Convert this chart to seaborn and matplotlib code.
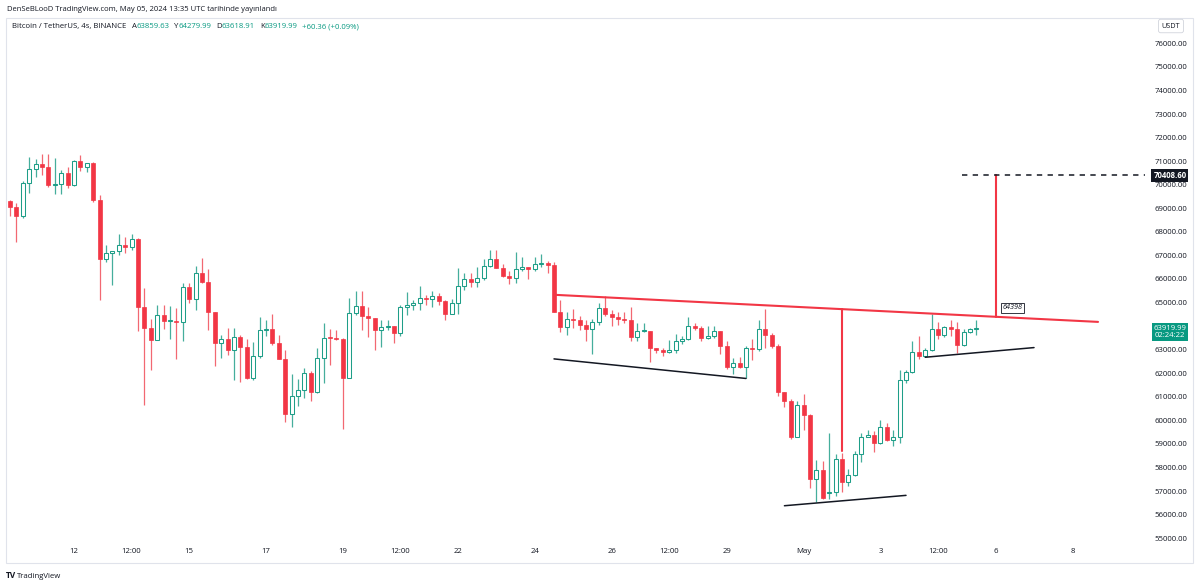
import numpy as np
import pandas as pd
import matplotlib
matplotlib.use("Agg")
import matplotlib.pyplot as plt
import matplotlib.dates as mdates
import matplotlib.transforms as mtransforms
from matplotlib.patches import Rectangle
import seaborn as sns

# ---------------- data ----------------
start_time = "2024-04-10 08:00"   # first 4h candle (UTC)

open_ = [69320, 69070, 68680, 70090, 70650, 70880, 70760, 69990, 70030, 70480,
         69990, 71020, 70760, 70900, 69350, 66840, 67120, 67170, 67450, 67350,
         67690, 64810, 63920, 63430, 64480, 64200, 64230, 64190, 65680, 65150,
         66260, 65870, 64580, 63300, 63460, 62970, 63540, 63120, 61780, 62730,
         63820, 63880, 63300, 62620, 60290, 61040, 61280, 62010, 61200, 62650,
         63500, 63480, 63460, 61800, 64560, 64870, 64440, 64330, 63820, 63960,
         63990, 63710, 64810, 64880, 64980, 65190, 65150, 65260, 65050, 64530,
         64980, 65710, 66000, 65880, 66040, 66560, 66840, 66460, 66110, 66040,
         66420, 66500, 66420, 66640, 66660, 66590, 64620, 63960, 64300, 64270,
         64040, 63880, 64160, 64770, 64530, 64390, 64300, 64240, 63540, 63780,
         63800, 63070, 62970, 62900, 63000, 63350, 63460, 64020, 63920, 63500,
         63570, 63780, 63170, 62270, 62440, 62270, 63070, 63030, 63880, 63640,
         63140, 61190, 60820, 59310, 60670, 60250, 57500, 57890, 56900, 56960,
         58370, 57380, 57670, 58560, 59310, 59360, 59050, 59730, 59190, 59290,
         61700, 62040, 62890, 62720, 63000, 63880, 63640, 63960, 63880, 63210,
         63730, 63859.63]
high = [69350, 69240, 70150, 71190, 71080, 71300, 71300, 71120, 70620, 70740,
        71050, 71260, 70930, 70980, 69560, 67450, 67200, 67910, 67800, 67910,
        67730, 65610, 64300, 64910, 64910, 64840, 64770, 65830, 65850, 66560,
        66880, 66420, 64600, 63640, 63920, 63920, 63640, 63460, 63310, 64390,
        64270, 64530, 63640, 63000, 61990, 61760, 62230, 62080, 63070, 64130,
        63880, 63850, 63500, 65190, 65470, 65470, 64810, 64350, 64270, 64270,
        64000, 64910, 65430, 65120, 65710, 65330, 65470, 65400, 65100, 65150,
        66460, 66250, 66250, 66530, 66840, 67240, 67210, 66640, 66320, 67160,
        66930, 66500, 66930, 67070, 66780, 66740, 65100, 64580, 64730, 64440,
        64270, 64300, 64980, 65290, 64700, 64620, 64580, 64810, 64130, 64130,
        63810, 63080, 63070, 63430, 63680, 63570, 64390, 64130, 63990, 63990,
        63990, 63800, 63350, 62650, 62690, 63170, 63460, 64240, 64730, 63710,
        63260, 61200, 60920, 60820, 61100, 60290, 58340, 58270, 59470, 58560,
        58630, 57920, 58700, 59470, 59580, 59540, 60010, 59900, 59580, 62120,
        62150, 63350, 63590, 63070, 64530, 64160, 64020, 64240, 64160, 63880,
        63920, 64279.99]
low = [68680, 67590, 68600, 69640, 70340, 70410, 69920, 69610, 69610, 69850,
       69950, 70590, 70550, 69280, 65120, 66700, 65760, 67020, 67120, 67210,
       63780, 60670, 62150, 63400, 63880, 63460, 62610, 63350, 64980, 64700,
       65850, 63850, 62300, 62650, 62790, 61730, 61620, 61760, 61730, 62650,
       63570, 63210, 62610, 59920, 59730, 60630, 60960, 60820, 61170, 61590,
       62370, 63430, 59640, 61780, 64480, 63850, 63540, 63000, 63120, 63850,
       63290, 63590, 64480, 64670, 64670, 64910, 64810, 64910, 64270, 64530,
       64530, 65540, 65680, 65680, 65940, 66530, 66460, 66080, 65800, 65830,
       66360, 66000, 66360, 66530, 66250, 64620, 63730, 63640, 63920, 63850,
       63350, 62830, 64060, 64410, 63990, 64060, 64130, 63350, 63350, 63740,
       62460, 62860, 62750, 62860, 62860, 63260, 63430, 63850, 63350, 63470,
       63500, 62830, 62180, 61990, 62230, 61800, 62580, 62930, 63070, 63070,
       61020, 60580, 59220, 59310, 59580, 57150, 56540, 56680, 56680, 56790,
       56960, 57210, 57640, 58230, 59280, 58650, 59020, 59120, 58900, 59050,
       61590, 62010, 62610, 62690, 62930, 63460, 63540, 63590, 62860, 63170,
       63710, 63618.91]
close = [69070, 68680, 70090, 70650, 70880, 70760, 69990, 70030, 70480, 69990,
         71020, 70760, 70900, 69350, 66840, 67120, 67170, 67450, 67350, 67690,
         64810, 63920, 63430, 64480, 64200, 64230, 64190, 65680, 65150, 66260,
         65870, 64580, 63300, 63460, 62970, 63540, 63120, 61780, 62730, 63820,
         63880, 63300, 62620, 60290, 61040, 61280, 62010, 61200, 62650, 63500,
         63480, 63460, 61800, 64560, 64870, 64440, 64330, 63820, 63960, 63990,
         63710, 64810, 64880, 64980, 65190, 65150, 65260, 65050, 64530, 64980,
         65710, 66000, 65880, 66040, 66560, 66840, 66460, 66110, 66040, 66420,
         66500, 66420, 66640, 66660, 66590, 64620, 63960, 64300, 64270, 64040,
         63880, 64160, 64770, 64530, 64390, 64300, 64240, 63540, 63780, 63800,
         63070, 62970, 62900, 63000, 63350, 63460, 64020, 63920, 63500, 63570,
         63780, 63170, 62270, 62440, 62270, 63070, 63030, 63880, 63640, 63140,
         61190, 60820, 59310, 60670, 60250, 57500, 57890, 56720, 56960, 58370,
         57380, 57670, 58560, 59310, 59360, 59050, 59730, 59190, 59290, 61700,
         62040, 62890, 62720, 63000, 63880, 63640, 63960, 63880, 63210, 63730,
         63860, 63919.99]

x_tick_times = ["2024-04-12 00:00", "2024-04-13 12:00", "2024-04-15 00:00", "2024-04-17 00:00",
                "2024-04-19 00:00", "2024-04-20 12:00", "2024-04-22 00:00", "2024-04-24 00:00",
                "2024-04-26 00:00", "2024-04-27 12:00", "2024-04-29 00:00", "2024-05-01 00:00",
                "2024-05-03 00:00", "2024-05-04 12:00", "2024-05-06 00:00", "2024-05-08 00:00"]
x_tick_labels = ["12", "12:00", "15", "17", "19", "12:00", "22", "24",
                 "26", "12:00", "29", "May", "3", "12:00", "6", "8"]
# 64000 is hidden behind the live price label in the reference
y_ticks = [v for v in range(55000, 77000, 1000) if v != 64000]

# drawings (time, price)
resistance_time = ["2024-04-24 12:00", "2024-05-08 16:00"]
resistance_price = [65330, 64180]
target_time = ["2024-05-06 00:00", "2024-05-06 00:00"]
target_price = [64398, 70408.60]
target_level_time = ["2024-05-05 03:00", "2024-05-12 00:00"]
target_level_price = [70408.60, 70408.60]
measure_time = ["2024-05-02 00:00", "2024-05-02 00:00"]
measure_price = [64720, 58710]
support1_time = ["2024-04-24 12:00", "2024-04-29 12:00"]
support1_price = [62610, 61780]
support2_time = ["2024-04-30 12:00", "2024-05-03 16:00"]
support2_price = [56380, 56820]
support3_time = ["2024-05-04 04:00", "2024-05-07 00:00"]
support3_price = [62680, 63090]

# ---------------- style ----------------
sns.set_style("white")
plt.rcParams["font.family"] = ["Open Sans", "DejaVu Sans"]

RED = "#F23645"
RED_WICK = "#F26872"
GREEN = "#1E9E88"
GREEN_WICK = "#45AE9C"
DARK = "#131722"
TEAL = "#089981"

W, H = 1200, 583
def fx(px):
    return px / W
def fy(py):
    return 1 - py / H

fig = plt.figure(figsize=(12, 5.83), dpi=100)
fig.patch.set_facecolor("white")
ax = fig.add_axes([fx(6), fy(541), fx(1145) - fx(6), fy(18) - fy(541)])
ax.set_facecolor("white")

times = pd.date_range(start_time, periods=len(open_), freq="4h")
df = pd.DataFrame({"time": times, "open": open_, "high": high,
                   "low": low, "close": close})
df["x"] = mdates.date2num(df["time"])
step = 4 / 24
up = df["close"] >= df["open"]
body_bottom = np.minimum(df["open"], df["close"])
body_h = np.maximum((df["close"] - df["open"]).abs(), 45)

ax.vlines(df["x"][up], df["low"][up], df["high"][up], color=GREEN_WICK, lw=0.9, zorder=2)
ax.vlines(df["x"][~up], df["low"][~up], df["high"][~up], color=RED_WICK, lw=0.9, zorder=2)
ax.bar(df["x"][up], body_h[up], bottom=body_bottom[up], width=step * 0.64,
       color="white", edgecolor=GREEN, lw=0.75, zorder=3)
ax.bar(df["x"][~up], body_h[~up], bottom=body_bottom[~up], width=step * 0.64,
       color=RED, edgecolor=RED, lw=0.5, zorder=3)

def tnum(lst):
    return mdates.date2num(pd.to_datetime(lst, format="%Y-%m-%d %H:%M"))

overlays = [
    (resistance_time, resistance_price, RED, 1.5, "-"),
    (target_time, target_price, RED, 1.5, "-"),
    (measure_time, measure_price, RED, 1.5, "-"),
    (support1_time, support1_price, DARK, 1.1, "-"),
    (support2_time, support2_price, DARK, 1.1, "-"),
    (support3_time, support3_price, DARK, 1.1, "-"),
    (target_level_time, target_level_price, DARK, 1.1, (0, (3.5, 3.5))),
]
for t, p, c, lw, ls in overlays:
    sns.lineplot(x=tnum(t), y=p, ax=ax, color=c, lw=lw, linestyle=ls,
                 estimator=None, sort=False, zorder=4)

t0 = mdates.date2num(pd.Timestamp(start_time))
ax.set_xlim(t0 - 0.625 * step, t0 + 177.34 * step)
ax.set_ylim(54884, 77073)
for s in ax.spines.values():
    s.set_visible(False)
ax.grid(False)
ax.set_xlabel("")
ax.set_ylabel("")

ax.yaxis.tick_right()
ax.set_yticks(y_ticks)
ax.set_yticklabels([f"{v:.2f}" for v in y_ticks])
ax.tick_params(axis="y", length=0, pad=7, labelsize=5.6, labelcolor=DARK)
ax.set_xticks(tnum(x_tick_times))
ax.set_xticklabels(x_tick_labels)
ax.tick_params(axis="x", length=0, pad=5, labelsize=5.6, labelcolor=DARK)

# price scale labels
trans = mtransforms.blended_transform_factory(ax.transAxes, ax.transData)
ax.text(1.0219, target_level_price[0], f"{target_level_price[0]:.2f}", transform=trans,
        ha="center", va="center", color="white", fontsize=5.6, fontweight="bold",
        bbox=dict(boxstyle="square,pad=0.25", fc=DARK, ec="none"), clip_on=False, zorder=6)
ax.annotate(f"{close[-1]:.2f}\n02:24:22", xy=(1.0219, close[-1]), xycoords=trans,
            xytext=(0, -3), textcoords="offset points", ha="center", va="center",
            color="white", fontsize=5.6, linespacing=1.05,
            bbox=dict(boxstyle="square,pad=0.25", fc=TEAL, ec="none"),
            annotation_clip=False, zorder=6)
ax.annotate(f"{target_price[0]:.0f}", xy=(tnum(target_time)[0], target_price[0]),
            xytext=(5, 4), textcoords="offset points", ha="left", va="bottom",
            fontsize=5.2, style="italic", color=DARK,
            bbox=dict(boxstyle="square,pad=0.2", fc="white", ec=DARK, lw=0.6), zorder=6)

# frame
fig.add_artist(Rectangle((fx(6), fy(563)), fx(1193) - fx(6), fy(18) - fy(563),
                         transform=fig.transFigure, fill=False, ec="#E0E3EB", lw=0.8))

# texts
fig.text(fx(6.7), fy(9.5), "DenSeBLooD TradingView.com, May 05, 2024 13:35 UTC tarihinde yayınlandı",
         fontsize=5.5, va="center", ha="left", color=DARK)
prev = fig.text(fx(11.7), fy(26.7), "Bitcoin / TetherUS, 4s, BINANCE",
                fontsize=5.6, va="center", ha="left", color=DARK)
pieces = [("A", DARK, 4), (f"{open_[-1]:.2f}", TEAL, 0), ("Y", DARK, 3.5),
          (f"{high[-1]:.2f}", TEAL, 0), ("D", DARK, 3.5), (f"{low[-1]:.2f}", TEAL, 0),
          ("K", DARK, 3.5), (f"{close[-1]:.2f}", TEAL, 0), ("+60.36 (+0.09%)", TEAL, 3.5)]
for txt, col, gap in pieces:
    prev = ax.annotate(txt, xy=(1, 0), xycoords=prev, xytext=(gap, 0),
                       textcoords="offset points", va="bottom", ha="left",
                       fontsize=5.6, color=col, annotation_clip=False)
fig.text(fx(1171), fy(26), "USDT", ha="center", va="center", fontsize=5.2, color=DARK,
         bbox=dict(boxstyle="round,pad=0.45,rounding_size=0.3", fc="white", ec="#D1D4DC", lw=0.6))
fig.text(fx(6), fy(576), "TV", ha="left", va="center", fontsize=6, fontweight="bold", color=DARK)
fig.text(fx(17), fy(576), "TradingView", ha="left", va="center", fontsize=5.6, color=DARK)

fig.savefig("out.png", dpi=100, facecolor="white")
